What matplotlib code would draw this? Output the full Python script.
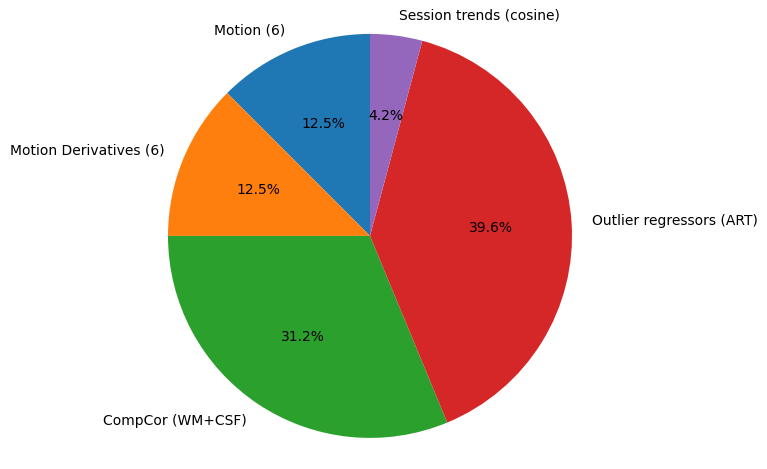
import matplotlib
matplotlib.use("Agg")
import matplotlib.pyplot as plt

labels = ["Motion (6)", "Motion Derivatives (6)", "CompCor (WM+CSF)", "Outlier regressors (ART)", "Session trends (cosine)"]
values = [6, 6, 15, 19, 2]

fig = plt.figure(figsize=(7.67, 4.69), dpi=100)
w = 404 / 767; h = 404 / 469
ax = fig.add_axes([370 / 767 - w / 2, 0.497 - h / 2, w, h])
ax.pie(values, labels=labels, autopct="%1.1f%%", startangle=90)
ax.set_xlim(-1, 1); ax.set_ylim(-1, 1)
ax.set_aspect("equal")
fig.savefig("out.png", dpi=100)
